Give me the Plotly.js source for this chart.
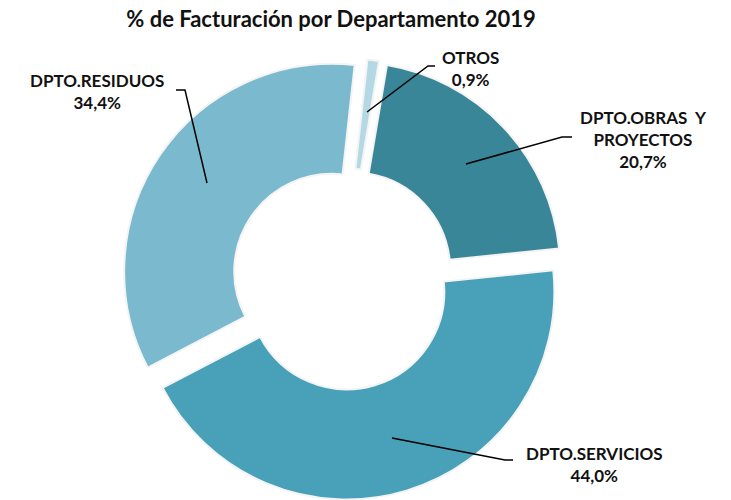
<!DOCTYPE html>
<html>
<head>
<meta charset="utf-8">
<script src="https://cdn.plot.ly/plotly-3.0.1.min.js"></script>
<style>html,body{margin:0;padding:0;background:#fff;}#chart{width:731px;height:500px;}</style>
</head>
<body>
<div id="chart"></div>
<script>
// Data
var categories = ["OTROS", "DPTO.OBRAS  Y PROYECTOS", "DPTO.SERVICIOS", "DPTO.RESIDUOS"];
var labelLines = ["OTROS", "DPTO.OBRAS  Y<br>PROYECTOS", "DPTO.SERVICIOS", "DPTO.RESIDUOS"];
var percentages = [0.9, 20.7, 44.0, 34.4];
var colors = ["#b5d9e4", "#3a8699", "#48a1b8", "#7bb9cf"];

var W = 731, H = 500, T = 58, B = 0;
function px(x) { return x / W; }
function py(y) { return (H - B - y) / (H - T - B); }

// label placement (pixels) and leader lines
var labelPos = [[470, 68.5], [643, 139.5], [594, 464], [97, 92]];
var leaders = [
  [[435, 66], [428, 66], [367, 112]],
  [[572, 137], [562, 137], [466, 164]],
  [[513, 460], [505, 460], [392, 438]],
  [[176, 90], [185, 90], [207, 183]]
];

function fmt(v) { return v.toFixed(1).replace('.', ',') + '%'; }

var trace = {
  type: 'pie',
  labels: categories,
  values: percentages,
  sort: false,
  direction: 'clockwise',
  rotation: 6.3,
  hole: 0.47,
  pull: 0.064,
  textinfo: 'none',
  hoverinfo: 'label+percent',
  marker: { colors: colors, line: { color: '#f4f4f4', width: 2 } },
  domain: { x: [0, 0.938], y: [0, 1] },
  showlegend: false
};

var annotations = categories.map(function (c, i) {
  return {
    text: labelLines[i] + '<br>' + fmt(percentages[i]),
    x: px(labelPos[i][0]), y: py(labelPos[i][1]),
    xref: 'paper', yref: 'paper',
    xanchor: 'center', yanchor: 'middle', align: 'center',
    showarrow: false,
    font: { family: 'Lato, sans-serif', size: 17, color: '#111', weight: 700 }
  };
});

var shapes = leaders.map(function (pts) {
  var d = pts.map(function (p, j) { return (j ? 'L' : 'M') + px(p[0]) + ',' + py(p[1]); }).join(' ');
  return { type: 'path', xref: 'paper', yref: 'paper', path: d, line: { color: '#000', width: 1.5 } };
});

var layout = {
  width: W, height: H,
  margin: { l: 0, r: 0, t: T, b: B },
  paper_bgcolor: '#fff',
  title: {
    text: '% de Facturación por Departamento 2019',
    x: 331 / W, xref: 'container', xanchor: 'center',
    y: 1 - 19 / H, yref: 'container', yanchor: 'middle',
    font: { family: 'Lato, sans-serif', size: 22, color: '#111', weight: 700 }
  },
  annotations: annotations,
  shapes: shapes
};

Plotly.newPlot('chart', [trace], layout, { displayModeBar: false, staticPlot: true });
</script>
</body>
</html>
